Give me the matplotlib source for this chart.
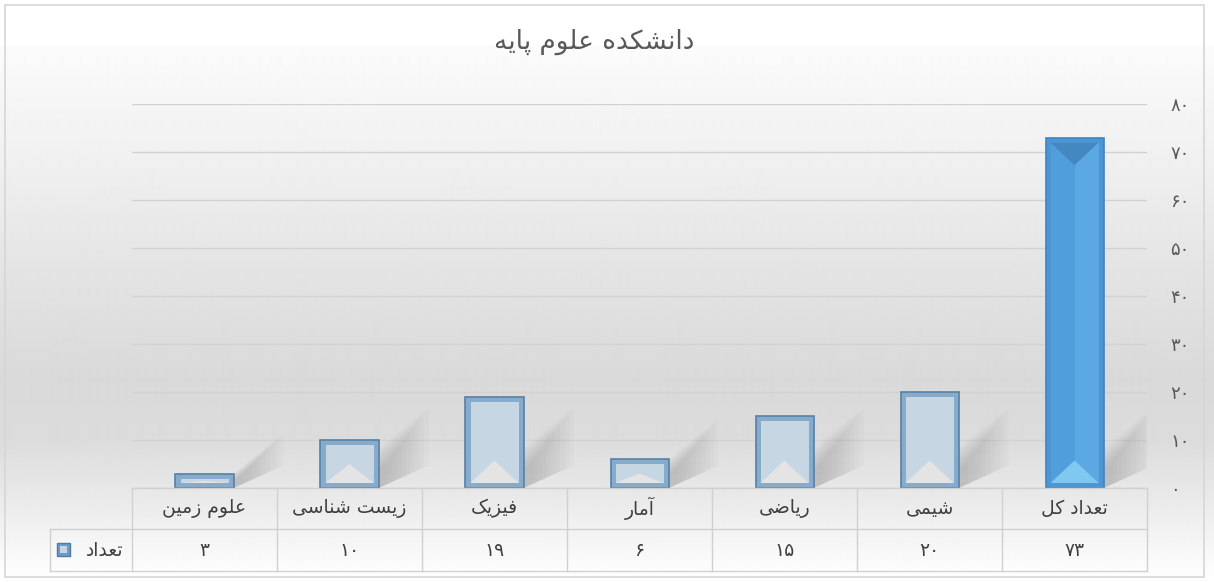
import numpy as np
import matplotlib
matplotlib.use("Agg")
import matplotlib.pyplot as plt
from matplotlib.patches import Polygon, Rectangle
from matplotlib import transforms

plt.rcParams['font.family'] = ['DejaVu Sans']

# chart data (right-to-left order, as in the table)
title = "دانشکده علوم پایه"
categories = ["تعداد کل", "شیمی", "ریاضی", "آمار", "فیزیک", "زیست شناسی", "علوم زمین"]
counts = [73, 20, 15, 6, 19, 10, 3]
series_name = "تعداد"
y_ticks = [0, 10, 20, 30, 40, 50, 60, 70, 80]

# isolated, final, initial, medial presentation forms
FORMS = {
    'ا': ('\uFE8D', '\uFE8E', None, None),
    'آ': ('\uFE81', '\uFE82', None, None),
    'د': ('\uFEA9', '\uFEAA', None, None),
    'ر': ('\uFEAD', '\uFEAE', None, None),
    'ز': ('\uFEAF', '\uFEB0', None, None),
    'و': ('\uFEED', '\uFEEE', None, None),
    'ن': ('\uFEE5', '\uFEE6', '\uFEE7', '\uFEE8'),
    'ش': ('\uFEB5', '\uFEB6', '\uFEB7', '\uFEB8'),
    'س': ('\uFEB1', '\uFEB2', '\uFEB3', '\uFEB4'),
    'ک': ('\uFB8E', '\uFB8F', '\uFB90', '\uFB91'),
    'ه': ('\uFEE9', '\uFEEA', '\uFEEB', '\uFEEC'),
    'ع': ('\uFEC9', '\uFECA', '\uFECB', '\uFECC'),
    'ل': ('\uFEDD', '\uFEDE', '\uFEDF', '\uFEE0'),
    'م': ('\uFEE1', '\uFEE2', '\uFEE3', '\uFEE4'),
    'پ': ('\uFB56', '\uFB57', '\uFB58', '\uFB59'),
    'ی': ('\uFBFC', '\uFBFD', '\uFBFE', '\uFBFF'),
    'ت': ('\uFE95', '\uFE96', '\uFE97', '\uFE98'),
    'ف': ('\uFED1', '\uFED2', '\uFED3', '\uFED4'),
    'ض': ('\uFEBD', '\uFEBE', '\uFEBF', '\uFEC0'),
}


def shape(text):
    out = []
    n = len(text)
    for i, c in enumerate(text):
        if c not in FORMS:
            out.append(c)
            continue
        iso, fin, ini, med = FORMS[c]
        prev = text[i - 1] if i > 0 else None
        nxt = text[i + 1] if i < n - 1 else None
        join_prev = prev in FORMS and FORMS[prev][2] is not None
        join_next = ini is not None and nxt in FORMS
        if join_prev and join_next:
            out.append(med)
        elif join_prev:
            out.append(fin)
        elif join_next:
            out.append(ini)
        else:
            out.append(iso)
    return "".join(reversed(out))


def fa_num(n):
    return str(n).translate(str.maketrans("0123456789", "۰۱۲۳۴۵۶۷۸۹"))


W, H = 1214, 582
fig = plt.figure(figsize=(W / 100, H / 100), dpi=100)


def fx(px):
    return px / W


def fy(py):
    return 1 - py / H


# background gradient
bg = fig.add_axes([0, 0, 1, 1], zorder=-5)
grad_y = [0, 45, 46, 150, 260, 380, 440, 500, 560, 582]
grad_v = [255, 255, 251, 241, 229, 217, 220, 234, 250, 255]
col = np.interp(np.arange(H), grad_y, grad_v) / 255
bg.imshow(np.repeat(col[:, None], 2, axis=1), cmap='gray', vmin=0, vmax=1,
          aspect='auto', extent=[0, 1, 0, 1], interpolation='bilinear')
bg.set_xlim(0, 1)
bg.set_ylim(0, 1)
bg.axis('off')

fig.add_artist(Rectangle((fx(5), fy(577)), fx(1204) - fx(5), fy(5) - fy(577),
                         transform=fig.transFigure, fill=False, ec='#d6d6d6', lw=1.2))

# main axes
left, right, top, bottom = 132, 1147, 104, 488
ax = fig.add_axes([fx(left), fy(bottom), fx(right) - fx(left), (bottom - top) / H])
ax.patch.set_alpha(0)
n = len(categories)
ax.set_xlim(n - 0.5, -0.5)
ax.set_ylim(0, 80)
ax.set_yticks(y_ticks)
ax.set_yticklabels([fa_num(v) for v in y_ticks])
ax.yaxis.tick_right()
ax.tick_params(axis='y', length=0, pad=17, labelsize=13, labelcolor='#595959')
ax.set_xticks([])
for s in ax.spines.values():
    s.set_visible(False)
ax.grid(axis='y', color='#d2d2d2', lw=1)
ax.set_axisbelow(True)

sx = (right - left) / n
sy = (bottom - top) / 80.0
bw = 0.40
tx, ty = 5 / sx, 5 / sy

for i, v in enumerate(counts):
    hl = i == 0
    x0 = i - bw / 2
    h_px = v * sy
    # soft shadow to the right (screen right = smaller data x)
    xr = i - bw / 2
    hs = min(h_px, 40)
    for k in range(10):
        L = 50 - k * 4.5
        hk = hs * (1 - k * 0.06)
        pts = [(0, 0), (0, hk), (L, hk + L * 0.8), (L, L * 0.45)]
        poly = [(xr - px / sx, py / sy) for px, py in pts]
        ax.add_patch(Polygon(poly, closed=True, fc='#707070', ec='none', alpha=0.035, zorder=1))

    edge_fc = '#4c96d4' if hl else '#86abcb'
    edge_ec = '#3f84c0' if hl else '#5680a8'
    face = '#5ba8e2' if hl else '#c6d6e2'
    ax.add_patch(Rectangle((x0, 0), bw, v, fc=edge_fc, ec=edge_ec, lw=1.2, zorder=3))
    iw = bw - 2 * tx
    ih = v - 2 * ty
    if ih > 0:
        ax.add_patch(Rectangle((x0 + tx, ty), iw, ih, fc=face, ec='none', zorder=4))
        if hl:
            ax.add_patch(Rectangle((i, ty), iw / 2, ih, fc='#509edb', ec='none', zorder=4))
        iw_px = iw * sx
        ih_px = ih * sy
        tri_h = min(0.47 * iw_px, 0.5 * ih_px) / sy
        bot_col = '#80c8f0' if hl else '#e4e4e4'
        ax.add_patch(Polygon([(x0 + tx, ty), (x0 + tx + iw, ty), (i, ty + tri_h)],
                             closed=True, fc=bot_col, ec='none', zorder=5))
        if hl:
            ax.add_patch(Polygon([(x0 + tx, ty + ih), (x0 + tx + iw, ty + ih), (i, ty + ih - tri_h)],
                                 closed=True, fc='#4587c0', ec='none', zorder=5))

# data table under the axes
trans = transforms.blended_transform_factory(ax.transData, fig.transFigure)
line_c = '#d0d0d0'
row1, row2, row3 = 488, 529, 571
for k in range(n + 1):
    ax.plot([k - 0.5, k - 0.5], [fy(row1), fy(row3)], color=line_c, lw=1,
            transform=trans, clip_on=False)
for yy, xl in [(row1, left), (row2, 50), (row3, 50)]:
    fig.add_artist(plt.Line2D([fx(xl), fx(right)], [fy(yy), fy(yy)], color=line_c, lw=1))
fig.add_artist(plt.Line2D([fx(50), fx(50)], [fy(row2), fy(row3)], color=line_c, lw=1))

for i, (cat, v) in enumerate(zip(categories, counts)):
    ax.text(i, fy((row1 + row2) / 2), shape(cat), transform=trans, ha='center', va='center',
            fontsize=13.5, color='#404040')
    ax.text(i, fy((row2 + row3) / 2), fa_num(v), transform=trans, ha='center', va='center',
            fontsize=13.5, color='#404040')

# legend key
fig.add_artist(Rectangle((fx(57), fy(556)), fx(13), 13 / H, transform=fig.transFigure,
                         fc='#6f9cc6', ec='#4f7aa6', lw=1))
fig.add_artist(Rectangle((fx(60), fy(553)), fx(7), 7 / H, transform=fig.transFigure,
                         fc='#c4d6e6', ec='none'))
fig.text(fx(123), fy(550), shape(series_name), ha='right', va='center', fontsize=13.5, color='#404040')

fig.text(fx(594), fy(42), shape(title), ha='center', va='center', fontsize=19, color='#595959')

fig.savefig("out.png", dpi=100)
